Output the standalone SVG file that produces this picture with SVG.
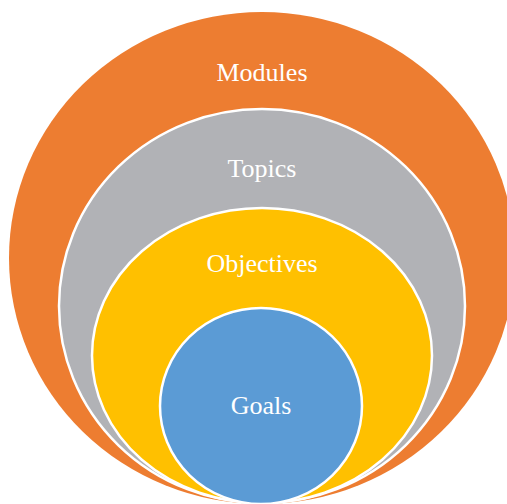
<svg xmlns="http://www.w3.org/2000/svg" width="507" height="504" viewBox="0 0 507 504">
<style>
.ring{stroke:#ffffff;stroke-width:2.5}
.lbl{font-family:"Liberation Serif","Times New Roman",serif;font-size:26px;fill:#ffffff;text-anchor:middle}
</style>
<rect width="507" height="504" fill="#ffffff"/>
<g id="modules">
<ellipse cx="262" cy="258" rx="253" ry="246" fill="#ED7D31"/>
<text class="lbl" x="262" y="81">Modules</text>
</g>
<g id="topics">
<ellipse class="ring" cx="262" cy="306" rx="203" ry="197" fill="#B1B2B6"/>
<text class="lbl" x="262" y="177">Topics</text>
</g>
<g id="objectives">
<ellipse class="ring" cx="262" cy="355.5" rx="170" ry="147.5" fill="#FFC000"/>
<text class="lbl" x="262" y="272">Objectives</text>
</g>
<g id="goals">
<ellipse class="ring" cx="261" cy="406" rx="101" ry="98" fill="#5B9BD5"/>
<text class="lbl" x="261" y="414">Goals</text>
</g>
<g id="connectors"/>
</svg>
